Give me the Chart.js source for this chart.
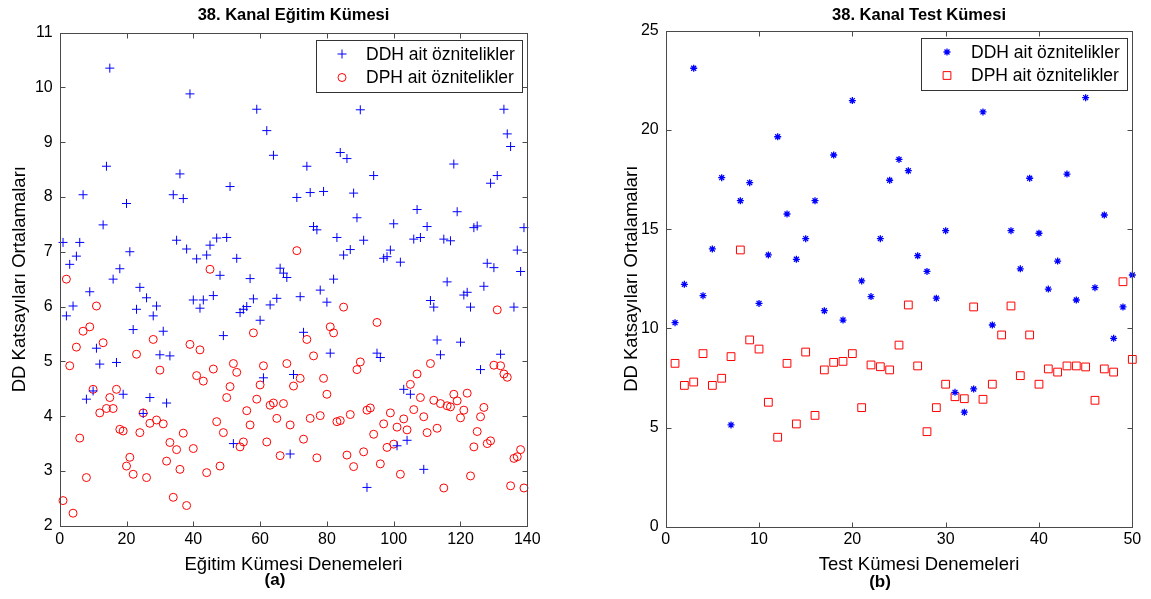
<!DOCTYPE html>
<html><head><meta charset="utf-8">
<script src="https://cdn.jsdelivr.net/npm/chart.js@4.4.1/dist/chart.umd.min.js"></script>
<style>html,body{margin:0;padding:0;background:#fff;overflow:hidden}
#c1{position:absolute;left:0;top:0}#c2{position:absolute;left:575px;top:0}</style>
</head><body>
<canvas id="c1" width="575" height="599"></canvas>
<canvas id="c2" width="576" height="599"></canvas>
<script>
// ---- data (index = trial number, starting at 1) ----
const trainDDH = [7.17,5.83,6.77,6.01,6.92,7.17,8.04,4.31,6.27,4.46,
5.24,4.95,7.49,8.56,10.35,6.5,4.98,6.69,4.4,7.88,
7.0,5.58,5.95,6.35,4.05,6.16,4.34,5.83,6.01,5.12,
5.55,4.24,5.1,8.04,7.21,8.42,7.97,7.05,9.88,6.12,
6.87,5.97,6.12,6.94,7.12,6.2,7.25,6.57,5.47,7.26,
8.19,3.5,6.88,5.89,5.95,6.0,6.51,6.14,9.6,5.75,
4.7,9.21,6.03,8.76,6.15,6.7,6.61,6.53,3.31,4.76,
7.99,6.18,5.53,8.56,8.08,7.46,7.4,6.3,8.1,6.08,
5.15,6.5,7.26,8.81,6.94,8.7,7.04,8.07,7.62,9.59,
7.21,2.7,null,8.39,5.15,5.07,6.88,6.91,7.03,7.51,
3.46,6.81,4.49,3.56,4.4,7.23,7.77,7.26,3.03,7.46,
6.11,5.99,5.39,5.12,7.23,6.45,7.2,8.6,7.73,5.35,
6.21,6.26,5.99,7.44,7.47,4.85,6.37,6.79,8.25,6.71,
8.39,5.13,9.6,9.15,8.92,5.99,7.03,6.64,7.44,null];
const trainDPH = [2.46,6.5,4.92,2.23,5.26,3.6,5.55,2.88,5.63,4.49,
6.01,4.06,5.34,4.14,4.34,4.14,4.49,3.76,3.73,3.09,
3.25,2.94,5.13,3.7,4.06,2.88,3.87,5.4,3.93,4.84,
3.86,3.18,3.52,2.52,3.39,3.03,3.69,2.37,5.31,3.41,
4.74,5.21,4.64,2.97,6.68,4.86,3.9,3.09,3.7,4.34,
4.54,4.96,4.8,3.44,3.53,4.1,3.84,5.52,4.31,4.57,
4.92,3.53,4.2,4.24,3.96,3.28,4.23,4.96,3.84,4.55,
7.02,4.69,3.58,5.4,3.96,5.1,3.24,4.01,4.69,4.4,
5.63,5.52,3.9,3.92,5.99,3.29,4.03,3.08,4.85,4.99,
3.35,4.11,4.15,3.67,5.71,3.13,3.86,3.43,4.06,3.49,
3.8,2.94,3.95,3.75,4.58,4.12,4.77,4.34,3.99,3.7,
4.96,4.29,3.78,4.23,2.69,4.19,4.17,4.4,4.28,3.97,
4.11,4.42,2.91,3.44,3.72,3.99,4.16,3.5,3.55,4.93,
5.94,4.92,4.77,4.71,2.73,3.23,3.26,3.39,2.69,null];
const testDDH = [10.29,12.22,23.1,11.65,14.0,17.59,5.14,16.43,17.34,11.26,
13.7,19.65,15.76,13.48,14.52,16.43,10.89,18.73,10.42,21.47,
12.39,11.6,14.52,17.46,18.51,17.94,13.66,12.87,11.52,14.92,
6.78,5.78,6.95,20.9,10.17,null,14.92,13.0,17.56,14.79,
11.98,13.39,17.77,11.43,21.62,12.05,15.71,9.5,11.08,12.69];
const testDPH = [8.24,7.13,7.3,8.73,7.13,7.49,8.58,13.95,9.42,8.96,
6.28,4.52,8.24,5.19,8.81,5.62,7.91,8.29,8.34,8.73,
6.01,8.16,8.07,7.91,9.16,11.18,8.11,4.8,6.01,7.19,
6.56,6.46,11.08,6.43,7.19,9.67,11.13,7.62,9.67,7.19,
7.96,7.8,8.11,8.11,8.06,6.38,7.96,7.8,12.35,8.44];

const trainXTicks = [0,20,40,60,80,100,120,140];
const trainYTicks = [2,3,4,5,6,7,8,9,10,11];
const testXTicks = [0,10,20,30,40,50];
const testYTicks = [0,5,10,15,20,25];
const seriesLabels = ['DDH ait öznitelikler','DPH ait öznitelikler'];
const titles = ['38. Kanal Eğitim Kümesi','38. Kanal Test Kümesi'];
const xTitles = ['Eğitim Kümesi Denemeleri','Test Kümesi Denemeleri'];
const yTitle = 'DD Katsayıları Ortalamaları';
const tags = ['(a)','(b)'];

// ---- styling ----
const FONT = "'Liberation Sans', Arial, sans-serif";
const BLUE = '#0000ff', RED = '#ff0000';

const framePlugin = {
  id: 'frame',
  afterDatasetsDraw(chart, args, o) {
    const {ctx, chartArea: ca, scales: {x, y}} = chart;
    ctx.save();
    const L = Math.round(ca.left) + 0.5, R = Math.round(ca.right) + 0.5;
    const T = Math.round(ca.top) + 0.5, B = Math.round(ca.bottom) + 0.5;
    ctx.strokeStyle = '#4a4a4a'; ctx.lineWidth = 1;
    ctx.beginPath();
    x.ticks.forEach(t => {
      const px = Math.round(x.getPixelForValue(t.value)) + 0.5;
      ctx.moveTo(px, B); ctx.lineTo(px, B - 5);
      ctx.moveTo(px, T); ctx.lineTo(px, T + 5);
    });
    y.ticks.forEach(t => {
      const py = Math.round(y.getPixelForValue(t.value)) + 0.5;
      ctx.moveTo(L, py); ctx.lineTo(L + 5, py);
      ctx.moveTo(R, py); ctx.lineTo(R - 5, py);
    });
    ctx.stroke();
    ctx.strokeRect(L, T, R - L, B - T);
    // legend
    const w = o.legendW, h = 52;
    const bx = Math.round(ca.right - 5 - w), by = Math.round(ca.top + 7);
    ctx.fillStyle = '#fff'; ctx.fillRect(bx, by, w, h);
    ctx.strokeStyle = '#333'; ctx.strokeRect(bx + 0.5, by + 0.5, w, h);
    chart.data.datasets.forEach((ds, i) => {
      const cy = by + 14 + i * 23.5;
      ctx.strokeStyle = ds.pointBorderColor; ctx.fillStyle = ds.pointBackgroundColor;
      ctx.lineWidth = ds.pointBorderWidth;
      Chart.helpers.drawPoint(ctx, {pointStyle: ds.pointStyle, radius: ds.pointRadius, borderWidth: ds.pointBorderWidth, rotation: 0}, bx + 26, cy);
      ctx.fillStyle = '#000'; ctx.font = '17.5px ' + FONT; ctx.textBaseline = 'middle'; ctx.textAlign = 'left';
      ctx.fillText(ds.label, bx + 50, cy + 1);
    });
    // texts: title, x-axis title, panel tag
    const cx = (ca.left + ca.right) / 2 + o.dx;
    ctx.fillStyle = '#000'; ctx.textAlign = 'center'; ctx.textBaseline = 'middle';
    ctx.font = 'bold 16.5px ' + FONT; ctx.fillText(o.title, cx, 15);
    ctx.font = '18.5px ' + FONT; ctx.fillText(o.xTitle, cx, 565);
    ctx.font = 'bold 17px ' + FONT; ctx.fillText(o.tag, o.tagX, o.tagY);
    ctx.restore();
  }
};

function makeChart(id, c) {
  return new Chart(document.getElementById(id), {
    type: 'scatter',
    data: {datasets: [
      {label: seriesLabels[0], data: c.a.map((v, i) => ({x: i + 1, y: v})),
       pointStyle: c.styleA, pointRadius: c.rA, pointBorderWidth: c.lwA,
       pointBorderColor: BLUE, pointBackgroundColor: BLUE, clip: false},
      {label: seriesLabels[1], data: c.b.map((v, i) => ({x: i + 1, y: v})),
       pointStyle: c.styleB, pointRadius: c.rB, pointBorderWidth: 1,
       pointBorderColor: RED, pointBackgroundColor: 'rgba(0,0,0,0)', clip: false}
    ]},
    options: {
      responsive: false, animation: false, devicePixelRatio: 1,
      events: [],
      layout: {padding: {left: 0, right: c.padRight, top: c.padTop, bottom: 0}},
      plugins: {
        legend: {display: false}, tooltip: {enabled: false}, title: {display: false},
        frame: {legendW: 206, tag: c.tag, tagX: c.tagX, tagY: c.tagY, title: c.title, xTitle: c.xTitle, dx: c.dx}
      },
      scales: {
        x: {type: 'linear', min: c.xTicks[0], max: c.xTicks[c.xTicks.length - 1],
          afterBuildTicks: s => { s.ticks = c.xTicks.map(v => ({value: v})); },
          afterFit: s => { s.height = c.xH; },
          grid: {display: false, drawTicks: false}, border: {display: false},
          ticks: {color: '#000', font: {family: FONT, size: 16, lineHeight: 1.2}, padding: c.xTickPad, maxRotation: 0, autoSkip: false},
          title: {display: false}},
        y: {type: 'linear', min: c.yTicks[0], max: c.yTicks[c.yTicks.length - 1],
          afterBuildTicks: s => { s.ticks = c.yTicks.map(v => ({value: v})); },
          afterFit: s => { s.width = c.yW; },
          grid: {display: false, drawTicks: false}, border: {display: false},
          ticks: {color: '#000', font: {family: FONT, size: 16, lineHeight: 1.2}, padding: 7, autoSkip: false},
          title: {display: true, text: yTitle, color: '#000', font: {family: FONT, size: 18.5, lineHeight: 1.2}, padding: {top: c.yTitlePad, bottom: 0}}}
      }
    },
    plugins: [framePlugin]
  });
}

makeChart('c1', {a: trainDDH, b: trainDPH, styleA: 'cross', rA: 4.5, lwA: 1, styleB: 'circle', rB: 4,
  xTicks: trainXTicks, yTicks: trainYTicks, title: titles[0], xTitle: xTitles[0], tag: tags[0], dx: 0,
  tagX: 275, tagY: 580, padRight: 575 - 527.3, padTop: 32.5, yW: 59.7, xH: 599 - 525.8, yTitlePad: 8.9, xTickPad: 4.6});
makeChart('c2', {a: testDDH, b: testDPH, styleA: 'star', rA: 3.5, lwA: 1.3, styleB: 'rect', rB: 5.5,
  xTicks: testXTicks, yTicks: testYTicks, title: titles[1], xTitle: xTitles[1], tag: tags[1], dx: 20,
  tagX: 880 - 575, tagY: 582, padRight: 18.7, padTop: 30.5, yW: 90.7, xH: 599 - 527, yTitlePad: 45.9, xTickPad: 3.4});
</script>
</body></html>
